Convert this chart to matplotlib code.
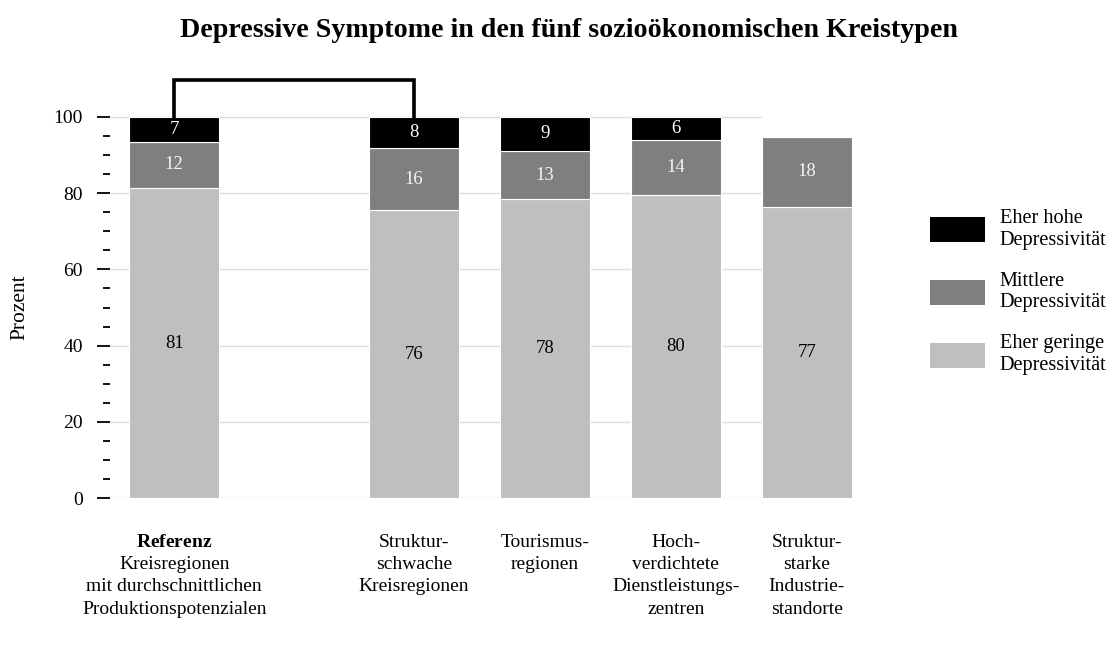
import numpy as np
import matplotlib
matplotlib.use("Agg")
import matplotlib.pyplot as plt
from matplotlib.ticker import FixedLocator
from matplotlib.patches import Patch

plt.rcParams['font.family'] = ['Liberation Serif', 'DejaVu Serif']
plt.rcParams['mathtext.fontset'] = 'custom'
plt.rcParams['mathtext.bf'] = 'Liberation Serif:bold'
plt.rcParams['mathtext.rm'] = 'Liberation Serif'

# data
categories = [
    "$\\mathbf{Referenz}$\nKreisregionen\nmit durchschnittlichen\nProduktionspotenzialen",
    "Struktur-\nschwache\nKreisregionen",
    "Tourismus-\nregionen",
    "Hoch-\nverdichtete\nDienstleistungs-\nzentren",
    "Struktur-\nstarke\nIndustrie-\nstandorte",
]
low = [81.3, 75.5, 78.4, 79.5, 76.4]
mid = [12.2, 16.3, 12.6, 14.3, 18.3]
high = [6.5, 8.2, 9.0, 6.2, 0.0]
low_lbl = ['81', '76', '78', '80', '77']
mid_lbl = ['12', '16', '13', '14', '18']
high_lbl = ['7', '8', '9', '6', '']
series_names = ["Eher hohe\nDepressivität", "Mittlere\nDepressivität",
                "Eher geringe\nDepressivität"]

c_high, c_mid, c_low = '#000000', '#7f7f7f', '#bfbfbf'

pos = np.array([0, 1.83, 2.83, 3.83, 4.83])
width = 0.687
xlim = (-0.49, 5.3)

fig = plt.figure(figsize=(11.12, 6.47), dpi=100)
ax = fig.add_axes([0.0989, 0.2298, 0.6821, 0.6606])
ax.set_xlim(*xlim)
ax.set_ylim(0, 112)

# gridlines stop at the last bar like in the reference
ax.hlines(np.arange(0, 101, 20), xlim[0], pos[-1] - width / 2,
          color='#dedede', lw=1.0, zorder=0)

b_low = ax.bar(pos, low, width, color=c_low, edgecolor='white', lw=0.8, zorder=2)
bottom2 = np.array(low)
b_mid = ax.bar(pos, mid, width, bottom=bottom2, color=c_mid, edgecolor='white',
               lw=0.8, zorder=2)
bottom3 = bottom2 + np.array(mid)
b_high = ax.bar(pos, high, width, bottom=bottom3, color=c_high, edgecolor='white',
                lw=0.8, zorder=2)

ax.bar_label(b_low, labels=low_lbl, label_type='center', color='black', fontsize=13.5)
ax.bar_label(b_mid, labels=mid_lbl, label_type='center', color='#f4f4f4', fontsize=13.5)
ax.bar_label(b_high, labels=high_lbl, label_type='center', color='white', fontsize=13.5)

# significance bracket between reference and second bar
tops = bottom3 + np.array(high)
yb = 109.6
ax.plot([pos[0], pos[0], pos[1], pos[1]], [tops[0], yb, yb, tops[1]],
        color='black', lw=2.6, solid_joinstyle='miter', clip_on=False, zorder=3)

for s in ax.spines.values():
    s.set_visible(False)

ax.set_yticks(np.arange(0, 101, 20))
ax.yaxis.set_minor_locator(FixedLocator(np.arange(0, 101, 5)))
ax.tick_params(axis='y', which='major', length=9.5, width=1.3, pad=10, labelsize=14)
ax.tick_params(axis='y', which='minor', length=5, width=1.3)
ax.set_xticks(pos)
ax.set_xticklabels(categories, fontsize=14, linespacing=1.41)
ax.tick_params(axis='x', length=0, pad=25.5)

fig.text(19.5 / 1112, 1 - 307 / 647, "Prozent", rotation=90, fontsize=15.5,
         ha='center', va='center')
fig.text(0.512, 0.953, "Depressive Symptome in den fünf sozioökonomischen Kreistypen",
         fontsize=20.2, fontweight='bold', ha='center', va='center')

handles = [Patch(facecolor=c_high), Patch(facecolor=c_mid), Patch(facecolor=c_low)]
fig.legend(handles, series_names, loc='upper left',
           bbox_to_anchor=(930 / 1112, 1 - 209 / 647), frameon=False,
           fontsize=14.6, borderpad=0, borderaxespad=0, handlelength=2.7,
           handleheight=1.52, handletextpad=0.74, labelspacing=1.08)

fig.savefig("out.png", dpi=100)
